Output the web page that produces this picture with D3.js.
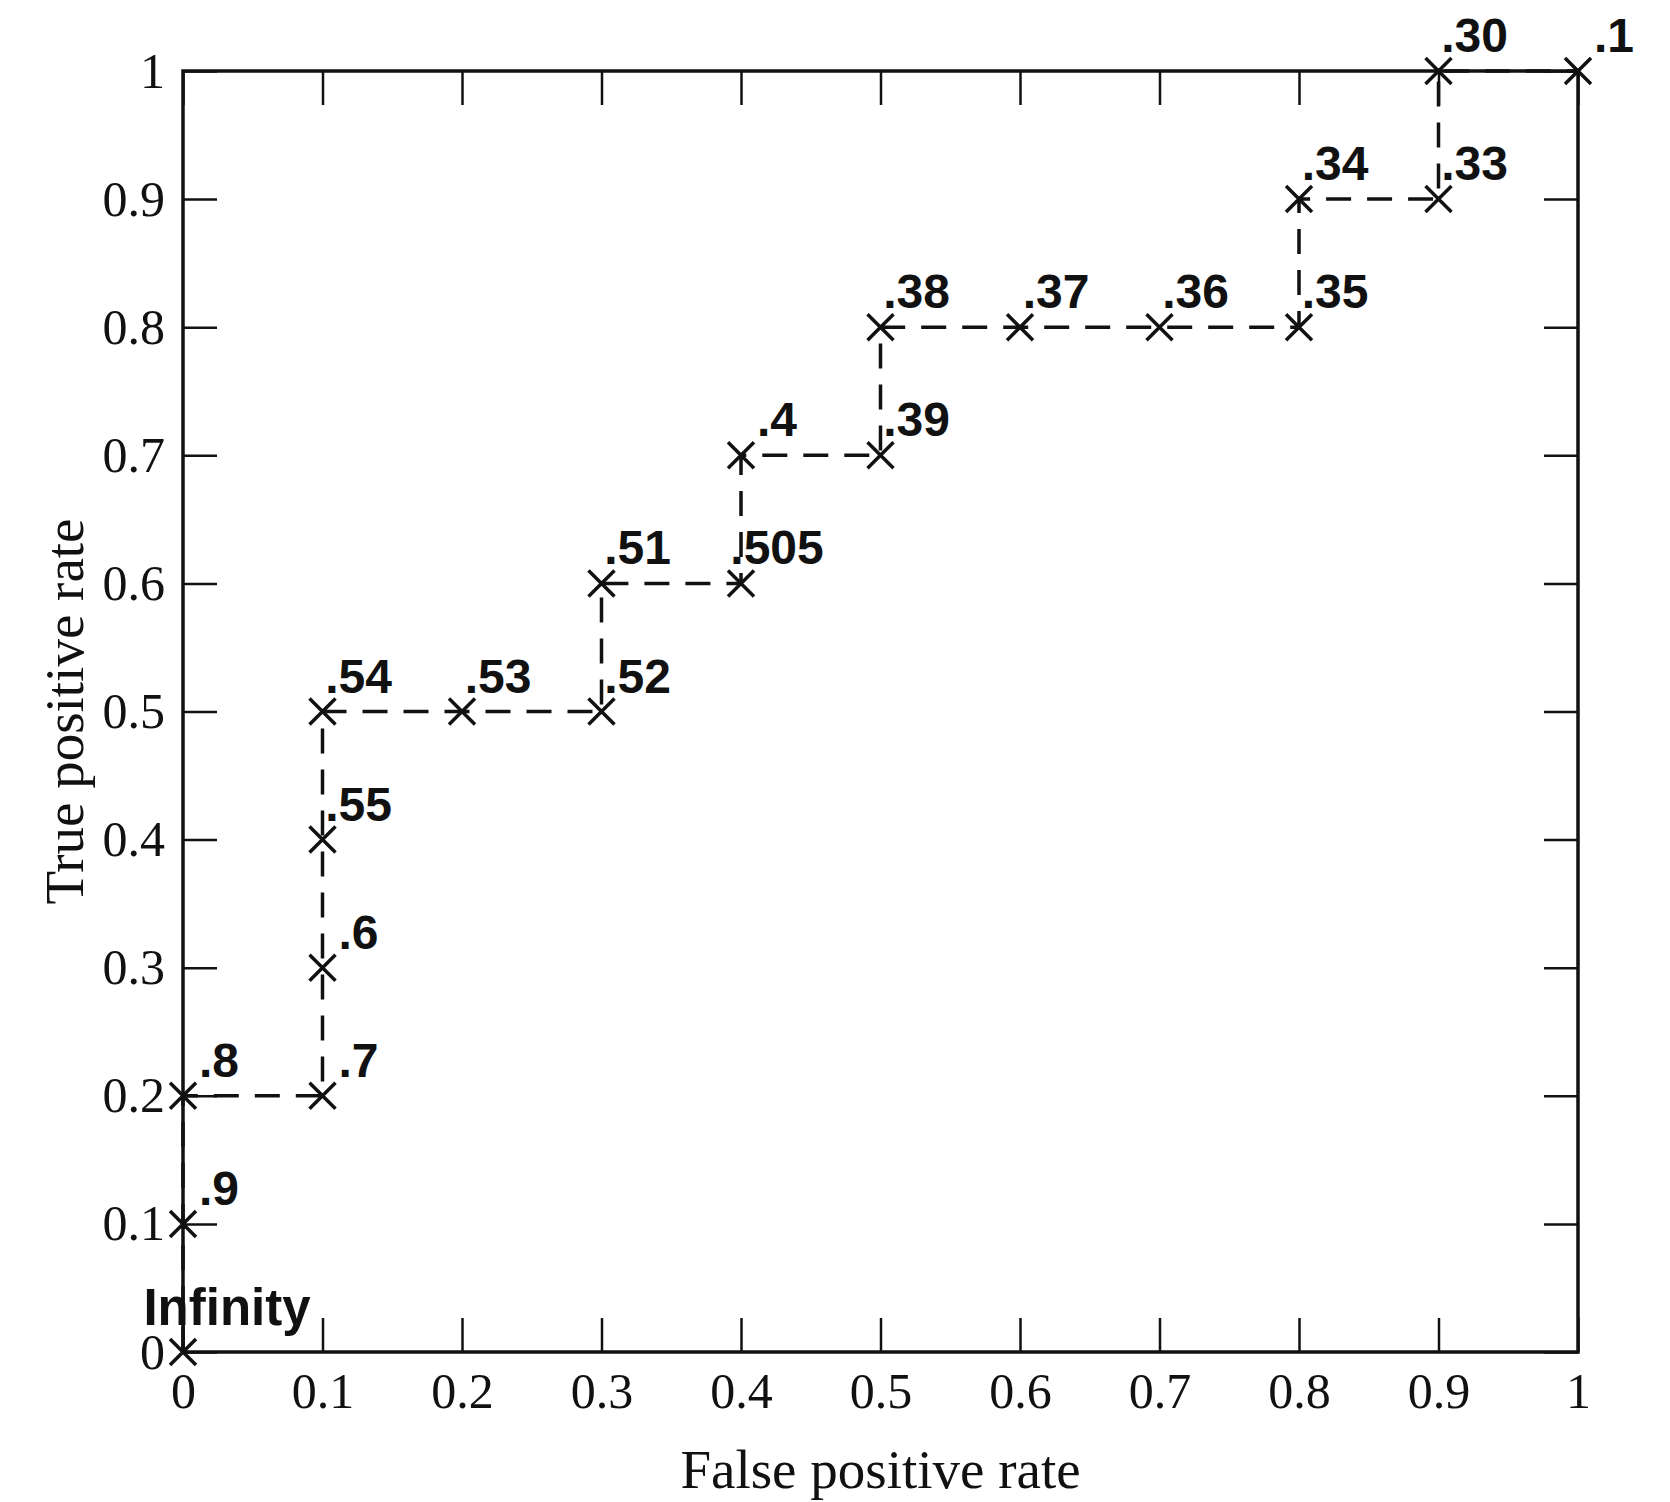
<!DOCTYPE html>
<html>
<head>
<meta charset="utf-8">
<script src="https://cdn.jsdelivr.net/npm/d3@7"></script>
<style>
  html, body { margin: 0; padding: 0; background: #fff; }
  svg { display: block; }
</style>
</head>
<body>
<div id="chart"></div>
<script>
// ROC curve with threshold labels at each step

// Data ────────────────────────────────────────────────────────────────────────
var fpr = [0, 0, 0, 0.1, 0.1, 0.1, 0.1, 0.2, 0.3, 0.3, 0.4,
           0.4, 0.5, 0.5, 0.6, 0.7, 0.8, 0.8, 0.9, 0.9, 1];
var tpr = [0, 0.1, 0.2, 0.2, 0.3, 0.4, 0.5, 0.5, 0.5, 0.6, 0.6,
           0.7, 0.7, 0.8, 0.8, 0.8, 0.8, 0.9, 0.9, 1, 1];
var thresholds = ["Infinity", ".9", ".8", ".7", ".6", ".55", ".54", ".53", ".52", ".51", ".505",
                  ".4", ".39", ".38", ".37", ".36", ".35", ".34", ".33", ".30", ".1"];
var tickValues = [0, 0.1, 0.2, 0.3, 0.4, 0.5, 0.6, 0.7, 0.8, 0.9, 1];
var tickLabels = ["0", "0.1", "0.2", "0.3", "0.4", "0.5", "0.6", "0.7", "0.8", "0.9", "1"];

var points = fpr.map(function (x, i) { return { x: x, y: tpr[i], label: thresholds[i] }; });

// Layout ──────────────────────────────────────────────────────────────────────
var W = 1670, H = 1502;
var margin = { top: 71, right: 92, bottom: 150, left: 183 };
var TICK = 34;
var SERIF = "'Liberation Serif', 'Times New Roman', serif";
var SANS  = "'Liberation Sans', Arial, Helvetica, sans-serif";

var svg = d3.select("#chart").append("svg")
  .attr("width", W).attr("height", H);

var x = d3.scaleLinear().domain([0, 1]).range([margin.left, W - margin.right]);
var y = d3.scaleLinear().domain([0, 1]).range([H - margin.bottom, margin.top]);

// Axes: ticks point inward on all four sides
function fmt(d) { return tickLabels[tickValues.indexOf(d)]; }

function styleAxis(g, showLabels) {
  g.select(".domain").remove();
  g.selectAll(".tick line").attr("stroke", "#111").attr("stroke-width", 2.5);
  g.selectAll(".tick text")
    .attr("font-family", SERIF).attr("font-size", "50px").attr("fill", "#111")
    .style("display", showLabels ? null : "none");
}

svg.append("g")
  .attr("transform", "translate(0," + y(0) + ")")
  .call(d3.axisBottom(x).tickValues(tickValues).tickFormat(fmt)
    .tickSizeInner(-TICK).tickSizeOuter(0).tickPadding(20))
  .call(function (g) { styleAxis(g, true); })
  .call(function (g) { g.selectAll(".tick text").attr("dy", "0.72em"); });

svg.append("g")
  .attr("transform", "translate(0," + y(1) + ")")
  .call(d3.axisTop(x).tickValues(tickValues).tickSizeInner(-TICK).tickSizeOuter(0))
  .call(function (g) { styleAxis(g, false); });

svg.append("g")
  .attr("transform", "translate(" + x(0) + ",0)")
  .call(d3.axisLeft(y).tickValues(tickValues).tickFormat(fmt)
    .tickSizeInner(-TICK).tickSizeOuter(0).tickPadding(18))
  .call(function (g) { styleAxis(g, true); });

svg.append("g")
  .attr("transform", "translate(" + x(1) + ",0)")
  .call(d3.axisRight(y).tickValues(tickValues).tickSizeInner(-TICK).tickSizeOuter(0))
  .call(function (g) { styleAxis(g, false); });

// frame
svg.append("rect")
  .attr("x", x(0)).attr("y", y(1))
  .attr("width", x(1) - x(0)).attr("height", y(0) - y(1))
  .attr("fill", "none").attr("stroke", "#111").attr("stroke-width", 3.5);

// Axis titles
svg.append("text")
  .attr("x", (x(0) + x(1)) / 2).attr("y", 1488)
  .attr("text-anchor", "middle")
  .attr("font-family", SERIF).attr("font-size", "55px").attr("fill", "#111")
  .text("False positive rate");

svg.append("text")
  .attr("transform", "translate(83," + (y(0) + y(1)) / 2 + ") rotate(-90)")
  .attr("text-anchor", "middle")
  .attr("font-family", SERIF).attr("font-size", "55px").attr("fill", "#111")
  .text("True positive rate");

// ── Dashed step curve ──
var line = d3.line().x(function (d) { return x(d.x); }).y(function (d) { return y(d.y); });

svg.append("path")
  .datum(points)
  .attr("d", line)
  .attr("fill", "none")
  .attr("stroke", "#111")
  .attr("stroke-width", 3.5)
  .attr("stroke-dasharray", "25,16");

// ── X markers ──
var CROSS = 13;
var marks = svg.append("g").selectAll("g")
  .data(points).enter().append("g")
  .attr("transform", function (d) { return "translate(" + x(d.x) + "," + y(d.y) + ")"; });

marks.append("path")
  .attr("d", "M" + -CROSS + "," + -CROSS + "L" + CROSS + "," + CROSS +
             "M" + -CROSS + "," + CROSS + "L" + CROSS + "," + -CROSS)
  .attr("stroke", "#111").attr("stroke-width", 3.5).attr("fill", "none");

// threshold labels, centred a little right of and above each point
// (the word label at the origin sits a bit higher and larger, clear of the "0" tick)
function isWord(d) { return d.label.charAt(0) !== "."; }

marks.append("text")
  .attr("x", function (d) { return isWord(d) ? 44 : 36; })
  .attr("y", function (d) { return isWord(d) ? -27 : -19; })
  .attr("text-anchor", "middle")
  .attr("font-family", SANS).attr("font-weight", "bold")
  .attr("font-size", function (d) { return isWord(d) ? "51px" : "48px"; })
  .attr("fill", "#111")
  .text(function (d) { return d.label; });
</script>
</body>
</html>
